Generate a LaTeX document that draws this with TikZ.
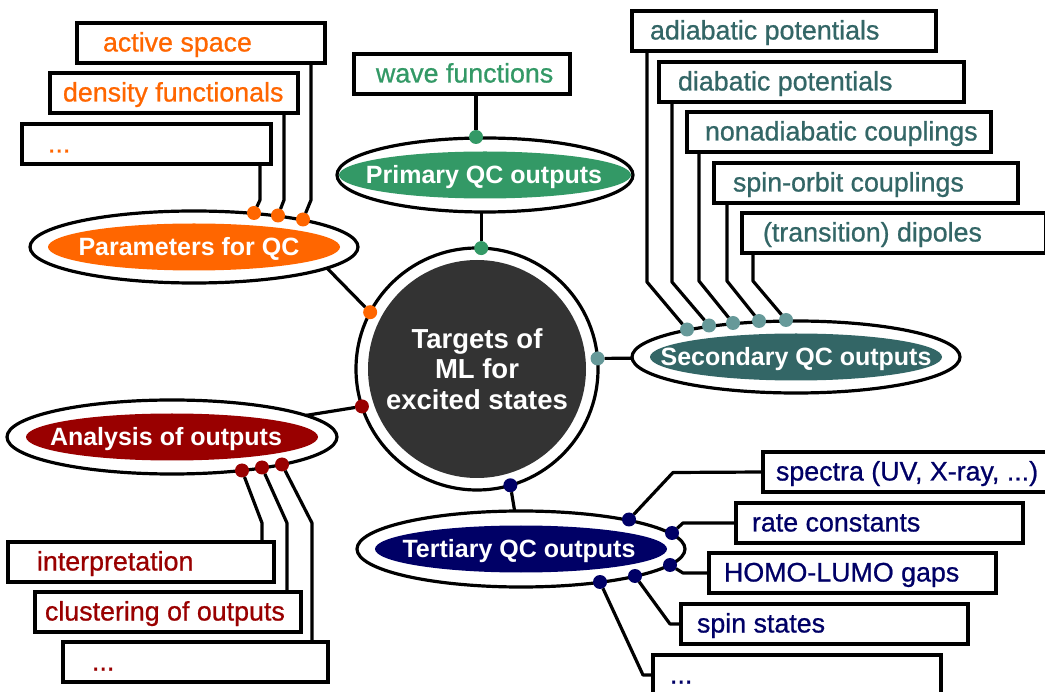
\documentclass[tikz,border=0pt]{standalone}
\usepackage{fontspec}
\setmainfont{Liberation Sans}
\newfontfamily\boxfont{Liberation Sans}[FakeBold=0.8]
\usetikzlibrary{shapes.geometric}
\definecolor{orangeC}{HTML}{FF6600}
\definecolor{greenC}{HTML}{339966}
\definecolor{tealC}{HTML}{336666}
\definecolor{tealDot}{HTML}{669999}
\definecolor{redC}{HTML}{990000}
\definecolor{navyC}{HTML}{000066}
\definecolor{darkC}{HTML}{333333}
\newcommand{\bxt}[2]{\makebox[#1pt][l]{#2}}
\begin{document}
\begin{tikzpicture}[x=1pt,y=-1pt,
  box/.style={draw, line width=3.2pt, fill=white, anchor=north west, outer sep=0pt,
    minimum height=40pt, inner ysep=0pt, text height=21pt, text depth=4pt,
    font=\boxfont\fontsize{26.8}{30}\selectfont},
  oval/.style n args={3}{ellipse, draw, line width=3.2pt, fill=white, inner sep=0pt, outer sep=0pt,
    minimum width=#1pt, minimum height=#2pt, text=white, text height=21pt, text depth=3.5pt,
    font=\bfseries\fontsize{25}{28}\selectfont,
    path picture={\fill[#3] (path picture bounding box.center) ellipse [x radius=146pt, y radius=23.5pt];}},
  dot/.style={circle, fill=#1, inner sep=0pt, outer sep=0pt, minimum size=14pt},
  link/.style={line width=3.2pt, line join=round}
]
\useasboundingbox (0,0) rectangle (1045,692);
\clip (0,0) rectangle (1045,692);

% ---- boxes: parameters (orange)
\node[box, text=orangeC, inner xsep=26pt] (A1) at (77,23) {\bxt{196}{active space}};
\node[box, text=orangeC, inner xsep=13pt] (A2) at (50,73) {\bxt{222}{density functionals}};
\node[box, text=orangeC, inner xsep=26pt] (A3) at (22,124) {\bxt{197}{...}};
% ---- primary (green)
\node[box, text=greenC, inner xsep=22pt] (W1) at (354,54) {\bxt{172}{wave functions}};
% ---- secondary (teal)
\node[box, text=tealC, inner xsep=18pt] (B1) at (632,11) {\bxt{268}{adiabatic potentials}};
\node[box, text=tealC, inner xsep=19pt] (B2) at (659,62) {\bxt{267}{diabatic potentials}};
\node[box, text=tealC, inner xsep=18pt] (B3) at (687,112) {\bxt{268}{nonadiabatic couplings}};
\node[box, text=tealC, inner xsep=19pt] (B4) at (714,163) {\bxt{266}{spin-orbit couplings}};
\node[box, text=tealC, inner xsep=21pt] (B5) at (742,213) {\bxt{262}{(transition) dipoles}};
% ---- tertiary (navy)
\node[box, text=navyC, inner xsep=13pt] (C1) at (763,452) {\bxt{274}{spectra (UV, X-ray, ...)}};
\node[box, text=navyC, inner xsep=16pt] (C2) at (736,503) {\bxt{255}{rate constants}};
\node[box, text=navyC, inner xsep=15pt] (C3) at (709,553) {\bxt{257}{HOMO-LUMO gaps}};
\node[box, text=navyC, inner xsep=16pt] (C4) at (681,604) {\bxt{255}{spin states}};
\node[box, text=navyC, inner xsep=17pt] (C5) at (653,655) {\bxt{254}{...}};
% ---- analysis (red)
\node[box, text=redC, inner xsep=29pt] (D1) at (8,542) {\bxt{208}{interpretation}};
\node[box, text=redC, inner xsep=10pt] (D2) at (35,592) {\bxt{246}{clustering of outputs}};
\node[box, text=redC, inner xsep=29pt] (D3) at (63,642) {\bxt{207}{...}};

% ---- ellipses
\node[oval={328}{72}{orangeC}] (par) at (194,247) {\makebox[0pt]{\hspace*{-10pt}Parameters for QC}};
\node[oval={296}{74}{greenC}] (prim) at (485,175) {\makebox[0pt]{\hspace*{-2pt}Primary QC outputs}};
\node[oval={328}{72}{tealC}] (sec) at (796,357) {\makebox[0pt]{Secondary QC outputs}};
\node[oval={330}{74}{redC}] (ana) at (172,437) {\makebox[0pt]{\hspace*{-12pt}Analysis of outputs}};
\node[oval={328}{76}{navyC}] (tert) at (521,549) {\makebox[0pt]{\hspace*{-4pt}Tertiary QC outputs}};

% ---- centre
\node[circle, draw, line width=3.2pt, fill=white, minimum size=242pt, inner sep=0pt, outer sep=0pt,
  text=white, align=center, font=\bfseries\fontsize{27.5}{30.5}\selectfont,
  path picture={\fill[darkC] (path picture bounding box.center) circle (109pt);}]
  (tgt) at (477,369) {Targets of\\ML for\\excited states};

% ---- dots
\node[dot=orangeC] (o1) at (254,213) {};
\node[dot=orangeC] (o2) at (278,215.5) {};
\node[dot=orangeC] (o3) at (303,219.5) {};
\node[dot=greenC] (g1) at (476,137) {};
\node[dot=tealDot] (s1) at (687,329.5) {};
\node[dot=tealDot] (s2) at (709,325.5) {};
\node[dot=tealDot] (s3) at (733,323) {};
\node[dot=tealDot] (s4) at (759,321) {};
\node[dot=tealDot] (s5) at (786,320) {};
\node[dot=navyC] (t1) at (629,519.5) {};
\node[dot=navyC] (t2) at (672,533) {};
\node[dot=navyC] (t3) at (670,565) {};
\node[dot=navyC] (t4) at (635,576) {};
\node[dot=navyC] (t5) at (600,582) {};
\node[dot=redC] (r1) at (242,470.5) {};
\node[dot=redC] (r2) at (262,467.5) {};
\node[dot=redC] (r3) at (282,464.5) {};
\node[dot=orangeC] (c1) at (tgt.152) {};
\node[dot=greenC] (c2) at (tgt.88) {};
\node[dot=tealDot] (c3) at (tgt.5) {};
\node[dot=redC] (c4) at (tgt.198) {};
\node[dot=navyC] (c5) at (tgt.286) {};

% ---- connectors
\draw[link] ([xshift=238pt]A3.south west) -- ++(0,36) -- (o1);
\draw[link] ([xshift=234pt]A2.south west) -- ++(0,87) -- (o2);
\draw[link] ([xshift=234pt]A1.south west) -- ++(0,137) -- (o3);
\draw[link] (g1 |- W1.south) -- (g1);
\draw[link] ([xshift=15pt]B1.south west) -- ++(0,231) -- (s1);
\draw[link] ([xshift=13pt]B2.south west) -- ++(0,180) -- (s2);
\draw[link] ([xshift=12pt]B3.south west) -- ++(0,129) -- (s3);
\draw[link] ([xshift=13pt]B4.south west) -- ++(0,78) -- (s4);
\draw[link] ([xshift=11pt]B5.south west) -- ++(0,28) -- (s5);
\draw[link] (t1) -- ++(44,-47) -- (C1.west);
\draw[link] (t2) -- ++(11,-10) -- (C2.west);
\draw[link] (t3) -- ++(13,8) -- (C3.west);
\draw[link] (t4) -- ++(35,48) -- (C4.west);
\draw[link] (t5) -- ++(43,93) -- (C5.west);
\draw[link] (r1) -- ++(20,52.5) -- ([xshift=254pt]D1.north west);
\draw[link] (r2) -- ++(25,55.5) -- ([xshift=252pt]D2.north west);
\draw[link] (r3) -- ++(30,58.5) -- ([xshift=249pt]D3.north west);
\draw[link] (c1) -- (par.-9);
\draw[link] (c2) -- (c2 |- prim.south);
\draw[link] (c3) -- (sec);
\draw[link] (c4) -- (ana);
\draw[link] (c5) -- (tert);
\end{tikzpicture}
\end{document}
